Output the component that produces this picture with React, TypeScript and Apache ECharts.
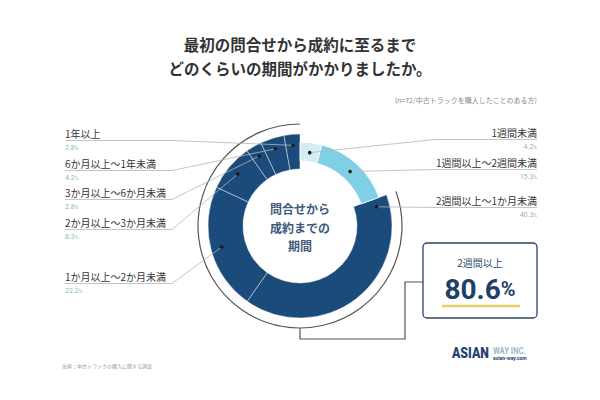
import React, { useEffect, useRef } from "react";
import * as echarts from "echarts";

// ---- data ----
const names = [
  "1週間未満",
  "1週間以上〜2週間未満",
  "2週間以上〜1か月未満",
  "1か月以上〜2か月未満",
  "2か月以上〜3か月未満",
  "3か月以上〜6か月未満",
  "6か月以上〜1年未満",
  "1年以上",
];
const values = [4.2, 15.3, 40.3, 22.2, 8.3, 2.8, 4.2, 2.8];
const titleLines = ["最初の問合せから成約に至るまで", "どのくらいの期間がかかりましたか。"];
const noteText = "(n=72/中古トラックを購入したことのある方)";
const centerLines = ["問合せから", "成約までの", "期間"];
const highlightLabel = "2週間以上";
const highlightValue = "80.6";
const highlightFrom = 2; // first index of the "2週間以上" group
const sourceText = "出典：中古トラックの購入に関する調査";

// ---- layout / style ----
const CX = 300;
const CY = 226;
const DARK = "#1b4b7b";
const lightColors = ["#d3edf2", "#7fd0e4"];
const isLight = [true, true, false, false, false, false, false, false];
const anchorFrac = [0.5, 0.5, 0.04, 0.5, 0.5, 0.5, 0.5, 0.5];
const leftOrder = [7, 6, 5, 4, 3];
const leftY = [133, 163, 192, 222, 276];
const rightOrder = [0, 1, 2];
const rightY = [132, 162, 200];
const JP = "'Noto Sans CJK JP', 'Noto Sans', sans-serif";

function pt(deg: number, r: number): number[] {
  const a = (deg * Math.PI) / 180;
  return [CX + r * Math.sin(a), CY - r * Math.cos(a)];
}

export default function App() {
  const ref = useRef<HTMLDivElement>(null);
  useEffect(() => {
    if (!ref.current) return;
    const chart = echarts.init(ref.current, null, { renderer: "svg" });
    const total = values.reduce((a, b) => a + b, 0);
    const starts: number[] = [];
    let acc = 0;
    values.forEach((v) => {
      starts.push((acc / total) * 360);
      acc += v;
    });
    const spans = values.map((v) => (v / total) * 360);
    const dots = values.map((_, i) => {
      const deg = starts[i] + anchorFrac[i] * spans[i];
      const r = isLight[i] ? 74 : i === 2 ? 79 : 81;
      return pt(deg, r);
    });

    const graphics: any[] = [];
    // title
    titleLines.forEach((t, k) => {
      graphics.push({
        type: "text",
        style: {
          text: t, x: 300, y: 44 + k * 24, fontSize: 15.5, fontWeight: "bold", fontFamily: JP,
          fill: "#333", align: "center", verticalAlign: "middle", textAlign: "center", textVerticalAlign: "middle",
        },
      });
    });
    graphics.push({
      type: "text",
      style: {
        text: noteText, x: 537, y: 100, fontSize: 7, fontFamily: JP, fill: "#888",
        align: "right", verticalAlign: "middle", textAlign: "right", textVerticalAlign: "middle",
      },
    });

    const pctRich = {
      v: { fontSize: 7, fill: "#93b4c6", fontFamily: "Roboto, sans-serif" },
      u: { fontSize: 5, fill: "#93b4c6", fontFamily: "Roboto, sans-serif" },
    };
    const addLabel = (i: number, y: number, side: "left" | "right") => {
      const xText = side === "left" ? 65 : 537;
      const elbow = side === "left" ? 172 : 435;
      const uy = y + 7.5;
      graphics.push({
        type: "polyline",
        shape: { points: [[xText, uy], [elbow, uy], dots[i]] },
        style: { stroke: "#b5b5b5", lineWidth: 0.8, fill: null },
        z: 10,
      });
      graphics.push({
        type: "circle",
        shape: { cx: dots[i][0], cy: dots[i][1], r: 1.8 },
        style: { fill: "#1a1a1a" },
        z: 11,
      });
      graphics.push({
        type: "text",
        style: {
          text: names[i], x: xText, y, fontSize: 10, fontFamily: JP, fill: "#333",
          align: side, verticalAlign: "middle", textAlign: side, textVerticalAlign: "middle",
        },
      });
      graphics.push({
        type: "text",
        style: {
          text: `{v|${values[i].toFixed(1)}}{u|%}`, x: xText, y: y + 15, rich: pctRich,
          align: side, verticalAlign: "middle", textAlign: side, textVerticalAlign: "middle",
        },
      });
    };
    leftOrder.forEach((i, k) => addLabel(i, leftY[k], "left"));
    rightOrder.forEach((i, k) => addLabel(i, rightY[k], "right"));

    // bracket arc over the 2週間以上 group
    const arcStart = ((starts[highlightFrom] - 90) * Math.PI) / 180;
    const arcEnd = ((360 - 90) * Math.PI) / 180;
    graphics.push({
      type: "arc",
      shape: { cx: CX, cy: CY, r: 102, startAngle: arcStart, endAngle: arcEnd, clockwise: true },
      style: { stroke: "#555", lineWidth: 1.2, fill: null },
    });
    const bottom = pt(180, 102);
    graphics.push({
      type: "polyline",
      shape: { points: [bottom, [bottom[0], 339], [405, 339], [405, 282], [423, 282]] },
      style: { stroke: "#555", lineWidth: 1.2, fill: null },
    });
    graphics.push({
      type: "rect",
      shape: { x: 423, y: 243, width: 114, height: 75, r: 4 },
      style: { fill: "#fff", stroke: "#2a4466", lineWidth: 1.3 },
    });
    graphics.push({
      type: "text",
      style: {
        text: highlightLabel, x: 480, y: 262, fontSize: 10, fontFamily: JP, fill: "#2b4a6e",
        align: "center", verticalAlign: "middle", textAlign: "center", textVerticalAlign: "middle",
      },
    });
    graphics.push({
      type: "text",
      style: {
        text: `{v|${highlightValue}}{u|%}`, x: 480, y: 289,
        rich: {
          v: { fontSize: 28, fontWeight: "bold", fill: "#1f3f66", fontFamily: "Roboto, sans-serif" },
          u: { fontSize: 20, fontWeight: "bold", fill: "#1f3f66", fontFamily: "Roboto, sans-serif" },
        },
        align: "center", verticalAlign: "middle", textAlign: "center", textVerticalAlign: "middle",
      },
    });
    graphics.push({
      type: "line",
      shape: { x1: 442, y1: 306, x2: 520, y2: 306 },
      style: { stroke: "#e6cf6a", lineWidth: 2.5 },
    });

    // center text
    graphics.push({
      type: "text",
      style: {
        text: centerLines.join("\n"), x: CX, y: 227, fontSize: 12, fontWeight: "bold", fontFamily: JP,
        fill: "#3f5979", lineHeight: 18.5,
        align: "center", verticalAlign: "middle", textAlign: "center", textVerticalAlign: "middle",
      },
    });

    // footer
    graphics.push({
      type: "text",
      style: {
        text: sourceText, x: 62, y: 365, fontSize: 5, fontFamily: JP, fill: "#999",
        align: "left", verticalAlign: "middle", textAlign: "left", textVerticalAlign: "middle",
      },
    });
    graphics.push({
      type: "text", x: 452, y: 353, scaleX: 0.82,
      style: {
        text: "ASIAN", x: 0, y: 0, fontSize: 15, fontWeight: 900, fontFamily: "Roboto, sans-serif",
        fill: "#1d4474", align: "left", verticalAlign: "middle", textAlign: "left", textVerticalAlign: "middle",
      },
    });
    graphics.push({
      type: "text", x: 493, y: 351, scaleX: 0.85,
      style: {
        text: "WAY INC.", x: 0, y: 0, fontSize: 9, fontWeight: "bold", fontFamily: "Roboto, sans-serif",
        fill: "#a3b3c6", align: "left", verticalAlign: "middle", textAlign: "left", textVerticalAlign: "middle",
      },
    });
    graphics.push({
      type: "text", x: 493, y: 358,
      style: {
        text: "asian-way.com", x: 0, y: 0, fontSize: 5, fontWeight: "bold", fontFamily: "Roboto, sans-serif",
        fill: "#1d4474", align: "left", verticalAlign: "middle", textAlign: "left", textVerticalAlign: "middle",
      },
    });

    const darkData = names.map((n, i) => ({
      name: n,
      value: values[i],
      itemStyle: isLight[i]
        ? { opacity: 0, borderWidth: 0 }
        : { color: DARK, borderColor: "rgba(255,255,255,0.55)", borderWidth: 0.8 },
    }));
    let li = 0;
    const lightData = names.map((n, i) => ({
      name: n,
      value: values[i],
      itemStyle: isLight[i]
        ? { color: lightColors[li++], borderColor: "#fff", borderWidth: 0.8 }
        : { opacity: 0, borderWidth: 0 },
    }));

    chart.setOption({
      animation: false,
      backgroundColor: "#fff",
      series: [
        {
          type: "pie", center: [CX, CY], radius: [57, 92], startAngle: 90, clockwise: true,
          silent: true, label: { show: false }, labelLine: { show: false }, data: darkData,
        },
        {
          type: "pie", center: [CX, CY], radius: [65, 84], startAngle: 90, clockwise: true,
          silent: true, label: { show: false }, labelLine: { show: false }, data: lightData,
        },
      ],
      graphic: { elements: graphics },
    });
    return () => chart.dispose();
  }, []);
  return <div ref={ref} style={{ position: "absolute", left: 0, top: 0, width: 600, height: 400 }} />;
}
